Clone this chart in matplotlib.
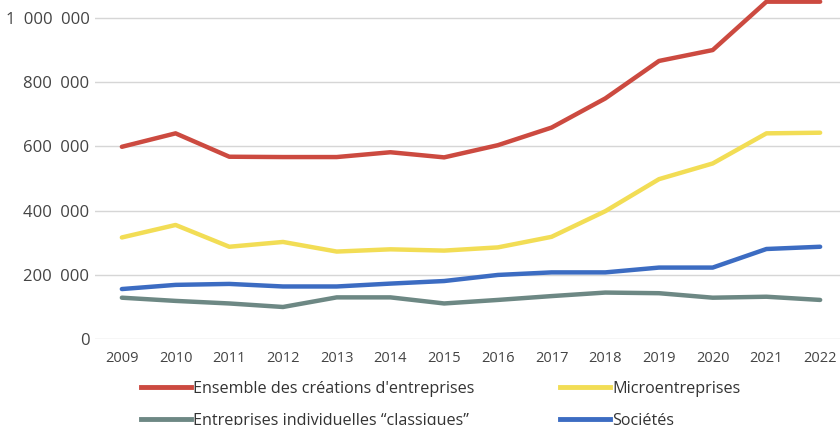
import matplotlib
matplotlib.use("Agg")
import matplotlib.pyplot as plt
from matplotlib.lines import Line2D
from matplotlib.ticker import FuncFormatter

# Créations d'entreprises par catégorie, 2009-2022
years = ["2009", "2010", "2011", "2012", "2013", "2014", "2015",
         "2016", "2017", "2018", "2019", "2020", "2021", "2022"]
ensemble = [599000, 641000, 568000, 567000, 567000, 582000, 566000,
            604000, 659000, 750000, 867000, 901000, 1052000, 1052000]
micro = [316000, 355000, 287000, 302000, 272000, 279000, 275000,
         285000, 318000, 398000, 498000, 547000, 641000, 643000]
societes = [155000, 168000, 171000, 163000, 163000, 172000, 180000,
            199000, 207000, 207000, 222000, 222000, 280000, 287000]
classiques = [128000, 118000, 110000, 99000, 129000, 129000, 110000,
              121000, 133000, 144000, 142000, 128000, 131000, 121000]

labels = ["Ensemble des créations d'entreprises",
          "Entreprises individuelles “classiques”",
          "Microentreprises",
          "Sociétés"]
y_ticks = [0, 200000, 400000, 600000, 800000, 1000000]

RED = "#cc4a40"
YELLOW = "#f2dd55"
BLUE = "#3c6cc2"
GRAY = "#6d8884"

plt.rcParams["font.family"] = ["Open Sans", "DejaVu Sans"]

fig = plt.figure(figsize=(8.4, 4.25), dpi=100)
ax = fig.add_axes([95 / 840, 1 - 338.7 / 425, 752 / 840, 352.4 / 425])

x = range(len(years))
ax.plot(x, classiques, color=GRAY, lw=3.2, solid_capstyle="round", zorder=3)
ax.plot(x, societes, color=BLUE, lw=3.2, solid_capstyle="round", zorder=3)
ax.plot(x, micro, color=YELLOW, lw=3.2, solid_capstyle="round", zorder=3)
ax.plot(x, ensemble, color=RED, lw=3.2, solid_capstyle="round", zorder=3)

ax.set_xlim(-0.5, len(years) - 0.5)
ax.set_ylim(0, 1100000)
ax.set_xticks(list(x))
ax.set_xticklabels(years)
ax.set_yticks(y_ticks)
# espace large entre les milliers, comme dans l'original
ax.yaxis.set_major_formatter(FuncFormatter(lambda v, p: f"{int(v):,}".replace(",", "\u2002")))
ax.grid(axis="y", color="#d6d6d6", lw=1.0, zorder=0)
ax.set_axisbelow(True)
for s in ax.spines.values():
    s.set_visible(False)
ax.tick_params(axis="both", length=0, colors="#444444")
ax.tick_params(axis="x", pad=9, labelsize=10.5)
ax.tick_params(axis="y", pad=4, labelsize=12)

handles = [Line2D([], [], color=RED, lw=3.5),
           Line2D([], [], color=GRAY, lw=3.5),
           Line2D([], [], color=YELLOW, lw=3.5),
           Line2D([], [], color=BLUE, lw=3.5)]
leg = fig.legend(handles, labels, ncol=2, loc="upper left",
                 bbox_to_anchor=(136 / 840, 1 - 376 / 425),
                 frameon=False, fontsize=11.6, handlelength=3.1,
                 handletextpad=0.15, columnspacing=5.3, labelspacing=0.98,
                 borderaxespad=0, borderpad=0.3)
for t in leg.get_texts():
    t.set_color("#333333")

fig.savefig("out.png", dpi=100)
